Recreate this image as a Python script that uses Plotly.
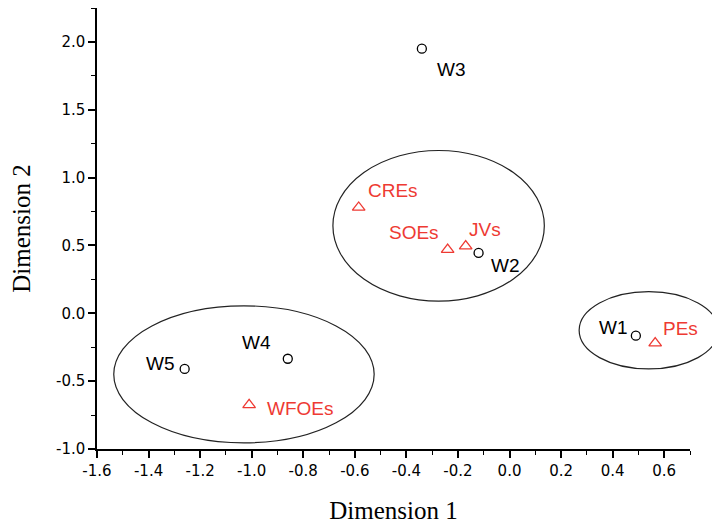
import plotly.graph_objects as go

# Data
w_labels = ["W1", "W2", "W3", "W4", "W5"]
w_x = [0.49, -0.12, -0.34, -0.86, -1.26]
w_y = [-0.165, 0.445, 1.95, -0.335, -0.41]

e_labels = ["PEs", "JVs", "SOEs", "CREs", "WFOEs"]
e_x = [0.565, -0.17, -0.24, -0.585, -1.01]
e_y = [-0.22, 0.495, 0.47, 0.78, -0.675]

x_ticks = [-1.6, -1.4, -1.2, -1.0, -0.8, -0.6, -0.4, -0.2, 0.0, 0.2, 0.4, 0.6]
y_ticks = [-1.0, -0.5, 0.0, 0.5, 1.0, 1.5, 2.0]

# label offsets (px)
w_off = [(-22, 8), (27, -13), (30, -21), (-31, 16), (-24, 5)]
e_off = [(25, 15), (19, 17), (-34, 17), (34, 17), (51, -4)]

# cluster ellipses: center x, center y, half width, half height (data units)
ell_cx = [-0.275, -1.03, 0.54]
ell_cy = [0.645, -0.45, -0.125]
ell_rx = [0.41, 0.505, 0.27]
ell_ry = [0.555, 0.505, 0.285]

XR = [-1.6, 0.7]
YR = [-1.0, 2.25]
RED = "#ee3a33"
SANS = "Liberation Sans, Arial"
TICKF = "DejaVu Sans"
SERIF = "Liberation Serif, Times New Roman"

fig = go.Figure()
fig.add_trace(go.Scatter(x=w_x, y=w_y, mode="markers",
                         marker=dict(symbol="circle-open", size=9, color="black", line=dict(width=1.3)),
                         showlegend=False, cliponaxis=False))
fig.add_trace(go.Scatter(x=e_x, y=e_y, mode="markers",
                         marker=dict(symbol="triangle-up-open", size=11, color=RED, line=dict(width=1.3)),
                         showlegend=False, cliponaxis=False))

for lab, x, y, (dx, dy) in zip(w_labels, w_x, w_y, w_off):
    fig.add_annotation(x=x, y=y, text=lab, showarrow=False, xshift=dx, yshift=dy,
                       font=dict(family=SANS, size=19, color="black"))
for lab, x, y, (dx, dy) in zip(e_labels, e_x, e_y, e_off):
    fig.add_annotation(x=x, y=y, text=lab, showarrow=False, xshift=dx, yshift=dy,
                       font=dict(family=SANS, size=19, color=RED))

def fx(v):
    return (v - XR[0]) / (XR[1] - XR[0])

def fy(v):
    return (v - YR[0]) / (YR[1] - YR[0])

for cx, cy, rx, ry in zip(ell_cx, ell_cy, ell_rx, ell_ry):
    fig.add_shape(type="circle", xref="x domain", yref="y domain",
                  x0=fx(cx - rx), x1=fx(cx + rx), y0=fy(cy - ry), y1=fy(cy + ry),
                  line=dict(color="#222", width=1.2))

axis_common = dict(showline=True, linecolor="black", linewidth=1.5, ticks="outside",
                   ticklen=7, tickwidth=1.5, tickcolor="black", showgrid=False, zeroline=False,
                   automargin=False,
                   tickfont=dict(family=TICKF, size=15, color="black"))

fig.update_xaxes(range=XR, tickvals=x_ticks, ticktext=[f"{v:.1f}" for v in x_ticks], **axis_common,
                 minor=dict(ticks="outside", ticklen=4, tickwidth=1.2, tickcolor="black", dtick=0.1, tick0=-1.6, showgrid=False),
                 title=dict(text="Dimension 1", font=dict(family=SERIF, size=25, color="black"), standoff=23))
fig.update_yaxes(range=YR, tickvals=y_ticks, ticktext=[f"{v:.1f}" for v in y_ticks], **axis_common,
                 minor=dict(ticks="outside", ticklen=4, tickwidth=1.2, tickcolor="black", dtick=0.25, tick0=-1.0, showgrid=False),
                 title=dict(text="Dimension 2", font=dict(family=SERIF, size=25, color="black"), standoff=22))

# page body adds an 8px offset, so margins are set relative to that
fig.update_layout(width=720, height=527, margin=dict(l=89, r=38, t=0, b=86),
                  plot_bgcolor="white", paper_bgcolor="white")

fig.write_html("out.html")
